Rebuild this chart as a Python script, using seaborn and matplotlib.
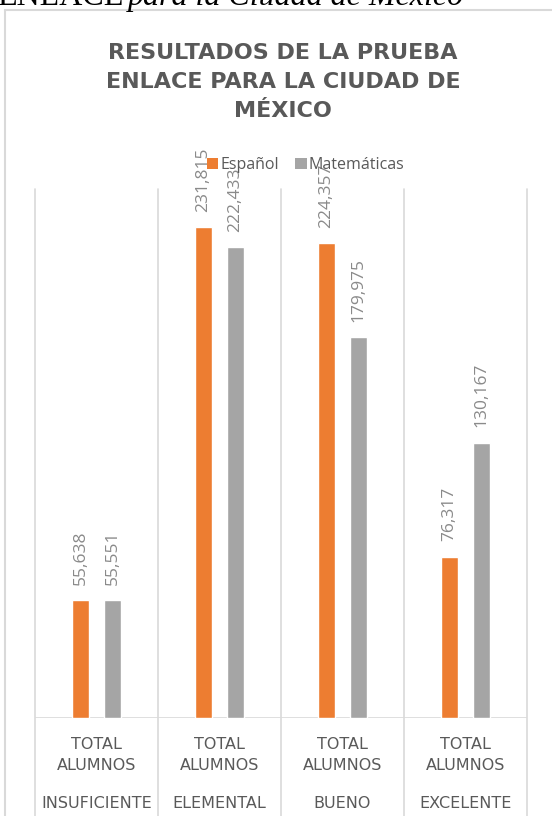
import matplotlib
matplotlib.use("Agg")
import matplotlib.pyplot as plt
from matplotlib.patches import Patch
from matplotlib.lines import Line2D
import seaborn as sns
import pandas as pd

categories = ["INSUFICIENTE", "ELEMENTAL", "BUENO", "EXCELENTE"]
sublabel = "TOTAL\nALUMNOS"
series_names = ["Español", "Matemáticas"]
espanol = [55638, 231815, 224357, 76317]
matematicas = [55551, 222433, 179975, 130167]
colors = ["#ED7D31", "#A5A5A5"]
title = "RESULTADOS DE LA PRUEBA\nENLACE PARA LA CIUDAD DE\nMÉXICO"

df = pd.DataFrame({
    "cat": categories * 2,
    "serie": [series_names[0]] * 4 + [series_names[1]] * 4,
    "valor": espanol + matematicas,
})

sns.set_theme(style="white")
plt.rcParams["font.family"] = ["Open Sans", "DejaVu Sans"]

W, H = 552, 816
fig = plt.figure(figsize=(W / 100, H / 100), dpi=100)
ax = fig.add_axes([35 / W, (H - 718) / H, (527 - 35) / W, (718 - 189) / H])

sns.barplot(data=df, x="cat", y="valor", hue="serie", order=categories,
            hue_order=series_names, palette=colors, width=0.52, gap=0.47,
            ax=ax, legend=False, saturation=1)

ax.set_ylim(0, 250000)
ax.set_xlim(-0.5, 3.5)
for s in ax.spines.values():
    s.set_visible(False)
ax.set_yticks([])
ax.set_xlabel("")
ax.set_ylabel("")
ax.set_xticks(range(len(categories)))
ax.set_xticklabels([sublabel] * len(categories), fontsize=11.5, color="#595959",
                   linespacing=1.45, family=["DejaVu Sans"])
ax.tick_params(axis="x", length=0, pad=14)

grid_c = "#D9D9D9"
for b in [i - 0.5 for i in range(len(categories) + 1)]:
    ax.plot([b, b], [-0.2, 1.0], transform=ax.get_xaxis_transform(),
            color=grid_c, lw=1.2, clip_on=False, zorder=0)
ax.axhline(0, color=grid_c, lw=1.2, zorder=0)

for i, c in enumerate(categories):
    ax.text(i, -0.161, c, transform=ax.get_xaxis_transform(), ha="center",
            va="center", fontsize=11.5, color="#595959", family=["DejaVu Sans"])

for cont in ax.containers:
    vals = [p.get_height() for p in cont]
    ax.bar_label(cont, labels=[f"{int(v):,}" for v in vals], padding=11,
                 rotation=90, fontsize=12.5, color="#8a8a8a")

handles = [Patch(facecolor=colors[0], edgecolor="none"),
           Patch(facecolor=colors[1], edgecolor="none")]
fig.legend(handles, series_names, loc="center", bbox_to_anchor=(306 / W, 1 - 165 / H),
           ncol=2, frameon=False, fontsize=11.5, labelcolor="#595959",
           handlelength=0.7, handleheight=0.7, handletextpad=0.15, columnspacing=1.0)

fig.text(283 / W, 1 - 82 / H, title, ha="center", va="center", fontsize=16,
         fontweight="bold", color="#595959", linespacing=1.55,
         family=["DejaVu Sans"])

fig.add_artist(Line2D([5 / W, 5 / W], [0, 1 - 10 / H], transform=fig.transFigure,
                      color=grid_c, lw=1.5))
fig.add_artist(Line2D([5 / W, 1], [1 - 10 / H, 1 - 10 / H], transform=fig.transFigure,
                      color=grid_c, lw=1.5))

fig.text(-3 / W, 1 - 5 / H, "ENLACE", ha="left", va="baseline", fontsize=23,
         color="black", family=["Liberation Serif"])
fig.text(128 / W, 1 - 5 / H, "para la Ciudad de México", ha="left", va="baseline",
         fontsize=23, color="black", style="italic", family=["Liberation Serif"])

fig.savefig("out.png", dpi=100)
